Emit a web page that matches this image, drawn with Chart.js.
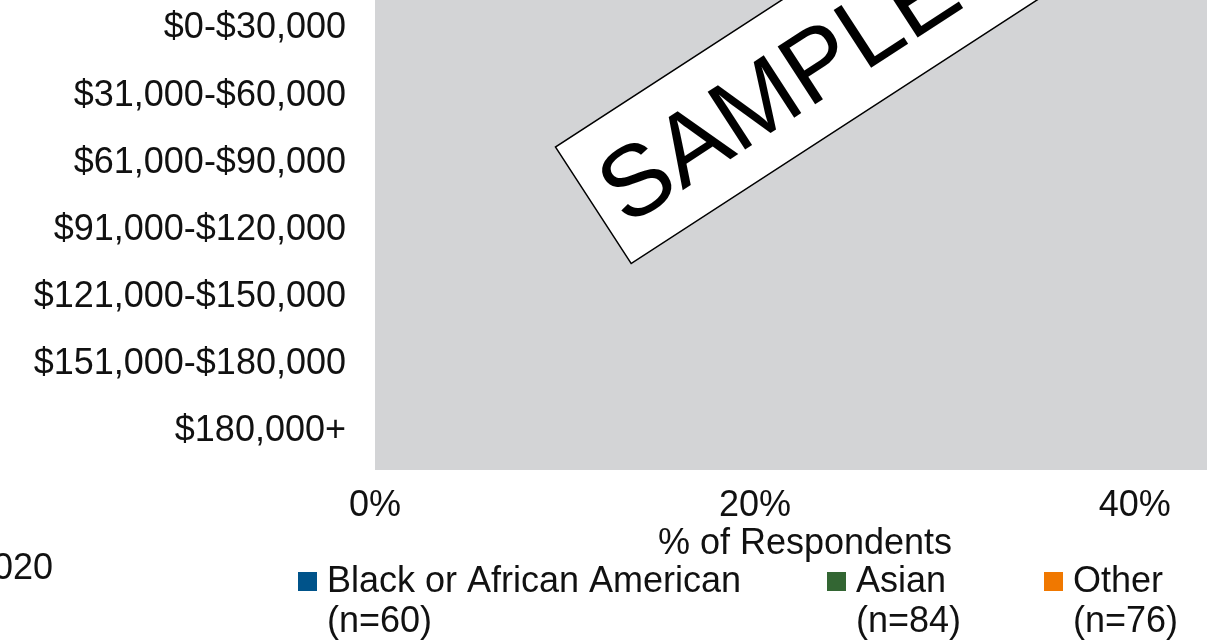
<!DOCTYPE html>
<html>
<head>
<meta charset="utf-8">
<script src="https://cdn.jsdelivr.net/npm/chart.js@4/dist/chart.umd.min.js"></script>
<style>
  html, body { margin: 0; padding: 0; background: #fff; }
  #wrap { position: relative; width: 1215px; height: 643px; overflow: hidden; }
</style>
</head>
<body>
<div id="wrap"><canvas id="incomeChart"></canvas></div>
<script>
// Household income by race, share of respondents
const incomeBands = [
  "$0-$30,000",
  "$31,000-$60,000",
  "$61,000-$90,000",
  "$91,000-$120,000",
  "$121,000-$150,000",
  "$151,000-$180,000",
  "$180,000+",
];
const groupNames = ["Black or African American", "Asian", "Other"];
const groupCounts = [60, 84, 76];
const blackValues = [0, 0, 0, 0, 0, 0, 0];
const asianValues = [0, 0, 0, 0, 0, 0, 0];
const otherValues = [0, 0, 0, 0, 0, 0, 0];
const percentTicks = [0, 20, 40];
const footnote = "2020";

const FONT = "'Liberation Sans', Arial, sans-serif";
const groupColors = ["#00538a", "#336633", "#f07800"];

// gray plot background
const plotBackground = {
  id: "plotBackground",
  beforeDraw(chart) {
    const { ctx, chartArea } = chart;
    ctx.save();
    ctx.fillStyle = "#d3d4d6";
    ctx.fillRect(chartArea.left, chartArea.top,
      chartArea.right - chartArea.left, chartArea.bottom - chartArea.top);
    ctx.restore();
  },
};

// axis title, two-line legend, footnote and the watermark
const extras = {
  id: "extras",
  afterDraw(chart) {
    const { ctx } = chart;
    ctx.save();
    ctx.font = `36px ${FONT}`;
    ctx.fillStyle = "#111";
    ctx.textBaseline = "alphabetic";

    ctx.textAlign = "center";
    ctx.fillText("% of Respondents", 805, 554);

    const boxX = [298, 827, 1044];
    chart.data.datasets.forEach((ds, i) => {
      ctx.fillStyle = ds.backgroundColor;
      ctx.fillRect(boxX[i], 572, 19, 19);
      ctx.fillStyle = "#111";
      ctx.textAlign = "left";
      ctx.fillText(ds.label, boxX[i] + 29, 592);
      ctx.fillText(`(n=${groupCounts[i]})`, boxX[i] + 29, 632);
    });

    ctx.textAlign = "right";
    ctx.fillText(footnote, 53, 579);

    // SAMPLE stamp
    ctx.translate(777, 86);
    ctx.rotate(-33 * Math.PI / 180);
    ctx.fillStyle = "#fff";
    ctx.fillRect(-219, -69.5, 500, 139);
    ctx.strokeStyle = "#000";
    ctx.lineWidth = 1.5;
    ctx.strokeRect(-219, -69.5, 500, 139);
    ctx.fillStyle = "#000";
    ctx.textAlign = "center";
    ctx.font = `100px ${FONT}`;
    ctx.fillText("SAMPLE", 0, 36);
    ctx.restore();
  },
};

const datasets = [blackValues, asianValues, otherValues].map((vals, i) => ({
  label: groupNames[i],
  data: vals,
  backgroundColor: groupColors[i],
  borderWidth: 0,
}));

new Chart(document.getElementById("incomeChart"), {
  type: "bar",
  data: { labels: incomeBands, datasets },
  options: {
    indexAxis: "y",
    responsive: true,
    maintainAspectRatio: false,
    devicePixelRatio: 1,
    animation: false,
    layout: { padding: { left: 0, right: 8, top: 0, bottom: 0 } },
    plugins: {
      legend: { display: false },
      tooltip: { enabled: false },
    },
    scales: {
      x: {
        min: 0,
        max: 43.8,
        afterBuildTicks(scale) {
          scale.ticks = percentTicks.map((v) => ({ value: v }));
        },
        afterFit(scale) {
          scale.height = 173;
          scale.paddingLeft = 0;
          scale.paddingRight = 0;
        },
        grid: { display: false, drawTicks: false },
        border: { display: false },
        ticks: {
          padding: 14,
          color: "#111",
          font: { family: FONT, size: 36 },
          callback: (v) => v + "%",
        },
      },
      y: {
        afterFit(scale) {
          scale.width = 375;
          scale.paddingTop = 0;
          scale.paddingBottom = 0;
        },
        grid: { display: false, drawTicks: false },
        border: { display: false },
        ticks: {
          padding: 29,
          labelOffset: -5,
          color: "#111",
          font: { family: FONT, size: 36 },
        },
      },
    },
  },
  plugins: [plotBackground, extras],
});
</script>
</body>
</html>
